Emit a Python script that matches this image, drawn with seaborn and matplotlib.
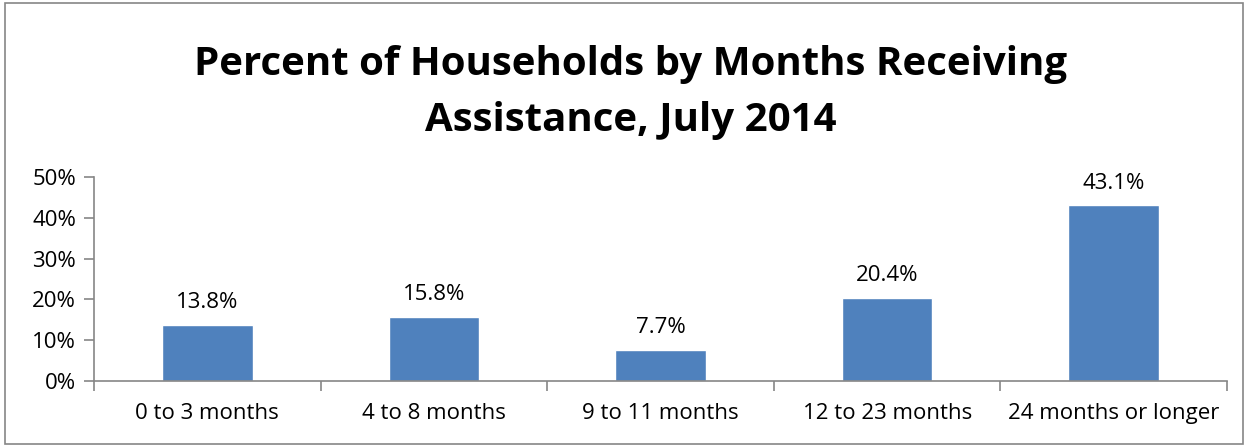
import matplotlib
matplotlib.use('Agg')
import matplotlib.pyplot as plt
import seaborn as sns
import pandas as pd
from matplotlib.patches import Rectangle
from matplotlib.ticker import FuncFormatter, FixedLocator

# data
categories = ['0 to 3 months', '4 to 8 months', '9 to 11 months', '12 to 23 months', '24 months or longer']
percents = [13.8, 15.8, 7.7, 20.4, 43.1]
labels = ['13.8%', '15.8%', '7.7%', '20.4%', '43.1%']

df = pd.DataFrame({'duration': categories, 'pct': percents})

sns.set_theme(style="white")
plt.rcParams['font.family'] = ['Open Sans', 'DejaVu Sans']
plt.rcParams['text.color'] = 'black'

fig = plt.figure(figsize=(12.49, 4.46), dpi=100)
ax = fig.add_axes([0.0753, 0.1457, 0.9071, 0.4574])

sns.barplot(data=df, x='duration', y='pct', color='#4F81BD', saturation=1, width=0.4, ax=ax)

for i, (v, t) in enumerate(zip(percents, labels)):
    ax.text(i, v + 2.8, t, ha='center', va='bottom', fontsize=16, color='black')

ax.set_ylim(0, 50)
ax.set_xlim(-0.5, len(categories) - 0.5)
ax.set_yticks([0, 10, 20, 30, 40, 50])
ax.yaxis.set_major_formatter(FuncFormatter(lambda v, p: f'{v:.0f}%'))
ax.set_xlabel('')
ax.set_ylabel('')

for s in ['top', 'right']:
    ax.spines[s].set_visible(False)
for s in ['left', 'bottom']:
    ax.spines[s].set_color('#868686')
    ax.spines[s].set_linewidth(1.2)

ax.tick_params(axis='y', which='major', left=True, length=7, width=1.2, color='#868686',
               labelsize=16, labelcolor='black', pad=6)
ax.tick_params(axis='x', which='major', bottom=False, labelsize=16, labelcolor='black', pad=10)
ax.xaxis.set_minor_locator(FixedLocator([i - 0.5 for i in range(len(categories) + 1)]))
ax.tick_params(axis='x', which='minor', bottom=True, length=7, width=1.2, color='#868686')

fig.text(0.505, 0.9, 'Percent of Households by Months Receiving\nAssistance, July 2014',
         ha='center', va='top', fontsize=29, fontweight='bold', color='black', linespacing=1.58)

fig.patches.append(Rectangle((0.004, 0.004), 0.991, 0.99, transform=fig.transFigure,
                             fill=False, edgecolor='#868686', linewidth=1.2))

plt.savefig('out.png', dpi=100)
